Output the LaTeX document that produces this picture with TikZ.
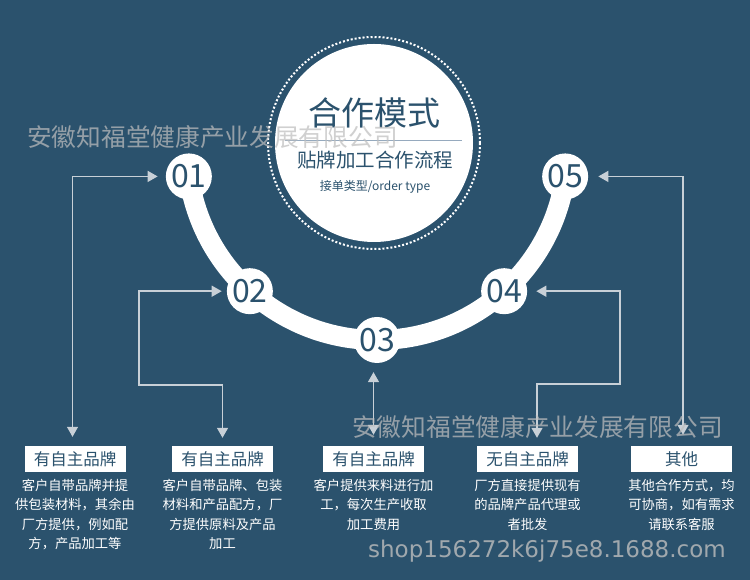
\documentclass[tikz,border=0pt]{standalone}
\usepackage{fontspec}
\setmainfont{Noto Sans CJK SC}
\newfontfamily\dejavu{DejaVu Sans}
\usetikzlibrary{arrows.meta,calc}
\definecolor{bgblue}{RGB}{43,82,109}
\definecolor{conncol}{RGB}{200,208,215}
\definecolor{wmcol}{RGB}{190,190,190}
\definecolor{rulecol}{RGB}{150,170,190}
\newcommand{\myfs}[1]{\fontsize{#1}{#1}\selectfont}
\begin{document}
\begin{tikzpicture}[x=1pt,y=1pt,
  numnode/.style={circle, fill=white, minimum size=46pt, inner sep=0pt, text=bgblue, font=\myfs{32pt}},
  titlebox/.style={fill=white, minimum width=101pt, minimum height=26pt, inner sep=0pt, text=bgblue, font=\myfs{16.5pt}},
  desc/.style={text=white, align=center, inner sep=0pt, anchor=north, font=\fontsize{13.3pt}{19.4pt}\selectfont},
  conn/.style={draw=conncol, line width=1.4pt, {Triangle[length=10pt,width=11pt]}-{Triangle[length=10pt,width=11pt]}},
  wm/.style={text=wmcol, text opacity=0.72, inner sep=0pt},
]
\fill[bgblue] (0,0) rectangle (750,580);
\useasboundingbox (0,0) rectangle (750,580);

% central circle
\fill[white] (374,437) circle[radius=99];
\draw[white, line width=2pt, dash pattern=on 2pt off 2pt] (374,437) circle[radius=106];

% arc
\coordinate (ac) at (377,430);
\draw[white, line width=20pt] (ac) ++(188:190) arc[start angle=188, end angle=352, radius=190];

\node[numnode] (n1) at ($(ac)+(188:190)$) {01};
\node[numnode] (n2) at ($(ac)+(228:190)$) {02};
\node[numnode] (n3) at ($(ac)+(270:190)$) {03};
\node[numnode] (n4) at ($(ac)+(312:190)$) {04};
\node[numnode] (n5) at ($(ac)+(352:190)$) {05};

% titles
\node[text=bgblue, font=\myfs{33pt}, inner sep=0pt] (t1) at (374,467) {合作模式};
\draw[rulecol, line width=0.8pt] (285,440) -- (462,440);
\node[text=bgblue, font=\myfs{19.5pt}, inner sep=0pt] (t2) at (375,420) {贴牌加工合作流程};
\node[text=bgblue, font=\myfs{12pt}, inner sep=0pt] (t3) at (375,393) {接单类型/order type};

% boxes
\node[titlebox] (b1) at (75,121) {有自主品牌};
\node[titlebox] (b2) at (222.5,121) {有自主品牌};
\node[titlebox] (b3) at (373.5,121) {有自主品牌};
\node[titlebox] (b4) at (527.5,121) {无自主品牌};
\node[titlebox] (b5) at (681.5,121) {其他};

\node[desc] (d1) at (75,101) {客户自带品牌并提\\供包装材料，其余由\\厂方提供，例如配\\方，产品加工等};
\node[desc] (d2) at (222.5,101) {客户自带品牌、包装\\材料和产品配方，厂\\方提供原料及产品\\加工};
\node[desc] (d3) at (373.5,101) {客户提供来料进行加\\工，每次生产收取\\加工费用};
\node[desc] (d4) at (527.5,101) {厂方直接提供现有\\的品牌产品代理或\\者批发};
\node[desc] (d5) at (681.5,101) {其他合作方式，均\\可协商，如有需求\\请联系客服};

% connectors
\coordinate (k2) at (139,195);
\coordinate (k4) at (620,196);
\draw[conn] ([xshift=-2.5pt,yshift=9pt]b1.north) |- ([xshift=-8pt]n1.west);
\draw[conn] ([xshift=-5pt]n2.west) -| (k2) -| ([yshift=8pt]b2.north);
\draw[conn] ([yshift=11pt]b3.north) -- ($(b3.north |- n3.south)+(0,-9)$);
\draw[conn] ([xshift=9pt]n4.east) -| (k4) -| ([xshift=9.5pt,yshift=8pt]b4.north);
\draw[conn] ([xshift=10pt]n5.east) -| ([xshift=1.5pt,yshift=11pt]b5.north);

% watermarks
\node[wm, font=\myfs{24.7pt}] (w1) at (212.5,443) {安徽知福堂健康产业发展有限公司};
\node[wm, font=\myfs{24.7pt}] (w2) at (537.5,153) {安徽知福堂健康产业发展有限公司};
\node[wm, text opacity=0.8, font=\dejavu\myfs{23pt}, anchor=base] (w3) at (547,22) {shop156272k6j75e8.1688.com};
\end{tikzpicture}
\end{document}
